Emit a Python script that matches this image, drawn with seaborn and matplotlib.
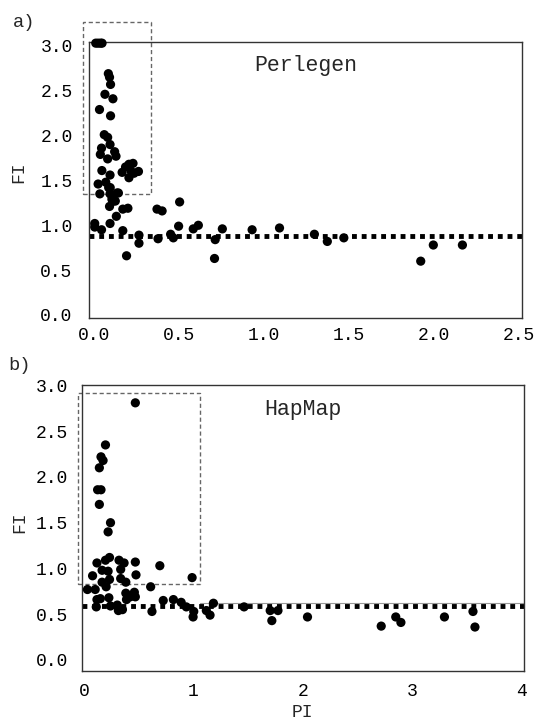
import numpy as np
import pandas as pd
import seaborn as sns
import matplotlib.pyplot as plt
from matplotlib.patches import Rectangle

sns.set_style("white")
plt.rcParams["font.family"] = ["Liberation Mono", "DejaVu Sans Mono"]

# panel a) Perlegen
perlegen_pi = [0.013, 0.027, 0.041, 0.050, 0.087, 0.094, 0.100, 0.067, 0.114, 0.035,
               0.100, 0.063, 0.083, 0.097, 0.047, 0.040, 0.124, 0.132, 0.083, 0.049,
               0.097, 0.027, 0.072, 0.037, 0.089, 0.097, 0.108, 0.146, 0.128, 0.094,
               0.172, 0.202, 0.134, 0.097, 0.007, 0.007, 0.047, 0.172, 0.194, 0.267,
               0.267, 0.168, 0.188, 0.208, 0.232, 0.208, 0.238, 0.264, 0.222, 0.373,
               0.403, 0.506, 0.379, 0.453, 0.469, 0.500, 0.586, 0.616, 0.715, 0.711,
               0.757, 0.932, 1.093, 1.298, 1.374, 1.471, 1.923, 1.997, 2.168,
               0.098, 0.138, 0.118]
perlegen_fi = [3.03, 3.03, 3.03, 3.03, 2.69, 2.65, 2.57, 2.46, 2.41, 2.29,
               2.22, 2.01, 1.98, 1.90, 1.86, 1.79, 1.82, 1.77, 1.74, 1.61,
               1.56, 1.46, 1.48, 1.35, 1.42, 1.35, 1.29, 1.36, 1.27, 1.21,
               1.18, 1.19, 1.10, 1.02, 1.02, 0.98, 0.95, 0.94, 0.66, 0.89,
               0.80, 1.59, 1.65, 1.68, 1.69, 1.53, 1.58, 1.60, 1.60, 1.18,
               1.16, 1.26, 0.85, 0.90, 0.86, 0.99, 0.96, 1.00, 0.84, 0.63,
               0.96, 0.95, 0.97, 0.90, 0.82, 0.86, 0.60, 0.78, 0.78,
               1.42, 1.36, 1.27]
perlegen_line = 0.88

# panel b) HapMap
hapmap_pi = [0.469, 0.196, 0.155, 0.174, 0.140, 0.124, 0.155, 0.140, 0.242, 0.220,
             0.118, 0.196, 0.233, 0.320, 0.366, 0.469, 0.693, 0.078, 0.165, 0.220,
             0.335, 0.475, 0.988, 0.165, 0.233, 0.335, 0.382, 0.202, 0.031, 0.102,
             0.118, 0.149, 0.227, 0.112, 0.242, 0.304, 0.351, 0.314, 0.382, 0.422,
             0.460, 0.469, 0.388, 0.609, 0.621, 0.724, 0.817, 0.888, 0.935, 1.003,
             0.997, 1.118, 1.152, 1.183, 1.463, 1.702, 1.773, 1.717, 2.043, 2.717,
             2.850, 2.897, 3.295, 3.556, 3.574]
hapmap_fi = [2.81, 2.35, 2.22, 2.18, 2.10, 1.86, 1.86, 1.70, 1.50, 1.40,
             1.06, 1.09, 1.12, 1.09, 1.06, 1.07, 1.03, 0.92, 0.98, 0.97,
             0.99, 0.93, 0.90, 0.85, 0.88, 0.89, 0.85, 0.80, 0.77, 0.77,
             0.66, 0.67, 0.68, 0.58, 0.59, 0.60, 0.55, 0.54, 0.73, 0.69,
             0.74, 0.69, 0.66, 0.80, 0.53, 0.65, 0.66, 0.63, 0.58, 0.53,
             0.47, 0.54, 0.49, 0.62, 0.58, 0.54, 0.54, 0.43, 0.47, 0.37,
             0.47, 0.41, 0.47, 0.53, 0.36]
hapmap_line = 0.59

df_a = pd.DataFrame({"PI": perlegen_pi, "FI": perlegen_fi})
df_b = pd.DataFrame({"PI": hapmap_pi, "FI": hapmap_fi})

fig = plt.figure(figsize=(5.34, 7.2), dpi=100)
ax_a = fig.add_axes([0.1672, 0.5579, 0.8109, 0.3834])
ax_b = fig.add_axes([0.1541, 0.0685, 0.8277, 0.3968])

def panel(ax, df, line, name, xlim, ylim, xticks, xticklabels, box):
    sns.scatterplot(data=df, x="PI", y="FI", ax=ax, color="black", s=44,
                    edgecolor="none", clip_on=False, zorder=3)
    ax.axhline(line, color="black", lw=3.5, linestyle=(0, (1, 1)), zorder=2)
    ax.set_xlim(*xlim)
    ax.set_ylim(*ylim)
    ax.set_xticks(xticks)
    ax.set_xticklabels(xticklabels)
    ax.set_yticks([0, 0.5, 1.0, 1.5, 2.0, 2.5, 3.0])
    ax.set_yticklabels(["0.0", "0.5", "1.0", "1.5", "2.0", "2.5", "3.0"])
    ax.tick_params(length=0, labelsize=13, colors="black")
    for sp in ax.spines.values():
        sp.set_color("#333333")
        sp.set_linewidth(1.0)
    ax.text(0.5, 0.915, name, transform=ax.transAxes, ha="center", va="center",
            fontsize=15.5)
    x0, y0, x1, y1 = box
    ax.add_patch(Rectangle((x0, y0), x1 - x0, y1 - y0, fill=False,
                           edgecolor="#666666", lw=1.0, linestyle=(0, (3, 2)),
                           clip_on=False, zorder=1))
    ax.set_xlabel("")
    ax.set_ylabel("FI", fontsize=13)

panel(ax_a, df_a, perlegen_line, "Perlegen", (-0.025, 2.52), (-0.037, 3.04),
      [0, 0.5, 1.0, 1.5, 2.0, 2.5], ["0.0", "0.5", "1.0", "1.5", "2.0", "2.5"],
      (-0.06, 1.35, 0.34, 3.27))
ax_a.tick_params(axis="y", pad=12)
ax_a.tick_params(axis="x", pad=6.5)
ax_a.yaxis.set_label_coords(-0.144, 0.53)

panel(ax_b, df_b, hapmap_line, "HapMap", (-0.016, 4.025), (-0.117, 3.005),
      [0, 1, 2, 3, 4], ["0", "1", "2", "3", "4"],
      (-0.052, 0.83, 1.058, 2.92))
ax_b.axhline(0.624, xmin=0.266, xmax=1.0, color="#999999", lw=0.8, zorder=1)
ax_b.tick_params(axis="y", pad=10)
ax_b.tick_params(axis="x", pad=9)
ax_b.set_xlabel("PI", fontsize=13)
ax_b.xaxis.set_label_coords(0.498, -0.118)
ax_b.yaxis.set_label_coords(-0.123, 0.52)

fig.text(0.024, 0.969, "a)", fontsize=13.5, ha="left", va="center")
fig.text(0.015, 0.492, "b)", fontsize=13.5, ha="left", va="center")

fig.savefig("out.png", dpi=100)
